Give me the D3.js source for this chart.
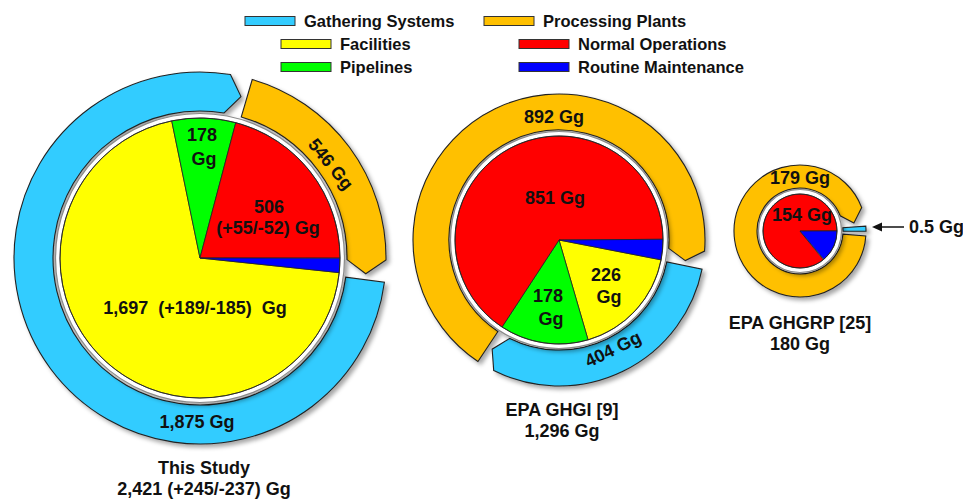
<!DOCTYPE html>
<html><head><meta charset="utf-8">
<script src="https://cdn.jsdelivr.net/npm/d3@7/dist/d3.min.js"></script>
<style>
html,body{margin:0;padding:0;background:#fff;}
svg{display:block;}
text{font-family:"Liberation Sans",Arial,sans-serif;font-weight:bold;fill:#111;white-space:pre;}
</style></head>
<body>
<svg id="chart" width="963" height="499"></svg>
<script>
// ---------- DATA ----------
const outerCategories = ["Gathering Systems", "Processing Plants"];
const innerCategories = ["Facilities", "Pipelines", "Normal Operations", "Routine Maintenance"];
const studies = ["This Study", "EPA GHGI [9]", "EPA GHGRP [25]"];
const studyTotals = ["2,421 (+245/-237) Gg", "1,296 Gg", "180 Gg"];

const outerThisStudy = [1875, 546];
const outerGHGI = [404, 892];
const outerGHGRP = [0.5, 179];

const innerThisStudy = [1697, 178, 506, 40];
const innerGHGI = [226, 178, 851, 41];
const innerGHGRP = [0.5, 0, 154, 25];

const outerLabelsThisStudy = [["1,875 Gg"], ["546 Gg"]];
const outerLabelsGHGI = [["404 Gg"], ["892 Gg"]];
const outerLabelsGHGRP = [["0.5 Gg"], ["179 Gg"]];
const innerLabelsThisStudy = [["1,697  (+189/-185)  Gg"], ["178", "Gg"], ["506", "(+55/-52) Gg"], []];
const innerLabelsGHGI = [["226", "Gg"], ["178", "Gg"], ["851 Gg"], []];
const innerLabelsGHGRP = [[], [], ["154 Gg"], []];

// ---------- STYLE ----------
const outerColors = ["#33CCFF", "#FFC000"];
const innerColors = ["#FFFF00", "#00FF00", "#FF0000", "#0000FF"];

const deg = Math.PI / 180;
const svg = d3.select("#chart");
const defs = svg.append("defs");
const f = defs.append("filter").attr("id", "shadow").attr("x", "-20%").attr("y", "-20%").attr("width", "140%").attr("height", "140%");
f.append("feDropShadow").attr("dx", 3).attr("dy", 3).attr("stdDeviation", 2.2)
  .attr("flood-color", "#000").attr("flood-opacity", 0.35);

// layout per chart
const charts = [
  { outer: outerThisStudy, inner: innerThisStudy, outerLabels: outerLabelsThisStudy, innerLabels: innerLabelsThisStudy,
    cx: 200, cy: 258, pieR: 140, ringR0: 147, ringR1: 186, innerStart: 96, outerStart: 97.5,
    tipPx: 14, gapPx: 6, startPadPx: 0,
    outerPos: [[197, 422, 0], [331, 164, 51]],
    innerPos: [[[195, 308]], [[202, 135], [204, 159]], [[269, 207], [268, 228]], []],
    titlePos: [204, 468] },
  { outer: outerGHGI, inner: innerGHGI, outerLabels: outerLabelsGHGI, innerLabels: innerLabelsGHGI,
    cx: 559, cy: 240, pieR: 104, ringR0: 110, ringR1: 146, innerStart: 101, outerStart: 101.5,
    tipPx: 11, gapPx: 5, startPadPx: 0,
    outerPos: [[613, 349, -26], [554, 117, 0]],
    innerPos: [[[606, 275], [609, 297]], [[548, 296], [551, 319]], [[555, 198]], []],
    titlePos: [562, 410] },
  { outer: outerGHGRP, inner: innerGHGRP, outerLabels: outerLabelsGHGRP, innerLabels: innerLabelsGHGRP,
    cx: 800, cy: 231, pieR: 37, ringR0: 43, ringR1: 66, innerStart: 140, outerStart: 87.5,
    tipPx: 11.7, gapPx: 5.7, startPadPx: 5.5, minSegDeg: 4.5,
    outerPos: [null, [800, 178, 0]],
    innerPos: [[], [], [[802, 215]], []],
    titlePos: [800, 323] }
];

function ringSegPath(cx, cy, r0, r1, a0, a1, aTip) {
  const p = d3.path();
  const pt = (r, a) => [cx + r * Math.sin(a), cy - r * Math.cos(a)];
  const s = pt(r1, a0);
  p.moveTo(s[0], s[1]);
  p.arc(cx, cy, r1, a0 - Math.PI / 2, a1 - Math.PI / 2, false);
  if (aTip != null) { const t = pt((r0 + r1) / 2, aTip); p.lineTo(t[0], t[1]); }
  const e = pt(r0, a1);
  p.lineTo(e[0], e[1]);
  p.arc(cx, cy, r0, a1 - Math.PI / 2, a0 - Math.PI / 2, true);
  p.closePath();
  return p.toString();
}

function multiline(g, lines, positions, rot) {
  lines.forEach((l, i) => {
    if (!positions[i]) return;
    const [x, y] = positions[i];
    g.append("text").attr("x", x).attr("y", y).attr("dy", "0.35em")
      .attr("text-anchor", "middle").attr("font-size", 18).text(l);
  });
}

charts.forEach((c, ci) => {
  const g = svg.append("g");
  const rMid = (c.ringR0 + c.ringR1) / 2;
  // outer ring via d3.pie
  const outerArcs = d3.pie().sort(null).value(d => d)
    .startAngle(c.outerStart * deg).endAngle(c.outerStart * deg + 2 * Math.PI)(c.outer);
  const gapA = c.gapPx / rMid, tipA = c.tipPx / rMid, padA = c.startPadPx / rMid;
  const ringG = g.append("g").attr("filter", "url(#shadow)");
  outerArcs.forEach((a, i) => {
    const span = a.endAngle - a.startAngle;
    let d;
    if (c.minSegDeg && span < c.minSegDeg * deg) {
      const mid = (a.startAngle + a.endAngle) / 2, h = c.minSegDeg * deg / 2;
      d = ringSegPath(c.cx, c.cy, c.ringR0, c.ringR1, mid - h, mid + h, null);
    } else {
      const a0 = a.startAngle + padA;
      const a1 = a.endAngle - gapA - tipA;
      d = ringSegPath(c.cx, c.cy, c.ringR0, c.ringR1, a0, a1, a.endAngle - gapA);
    }
    ringG.append("path").attr("d", d).attr("fill", outerColors[i])
      .attr("stroke", "#222").attr("stroke-width", 1.1).attr("stroke-linejoin", "miter");
  });
  // inner pie with white border ring
  g.append("circle").attr("cx", c.cx).attr("cy", c.cy).attr("r", c.pieR + 4.5)
    .attr("fill", "#fff").attr("stroke", "#8a8a8a").attr("stroke-width", 1.2).attr("filter", "url(#shadow)");
  const innerArcs = d3.pie().sort(null).value(d => d)
    .startAngle(c.innerStart * deg).endAngle(c.innerStart * deg + 2 * Math.PI)(c.inner);
  const arc = d3.arc().innerRadius(0).outerRadius(c.pieR);
  g.append("g").attr("transform", `translate(${c.cx},${c.cy})`)
    .selectAll("path").data(innerArcs.filter(a => a.endAngle - a.startAngle > 0.03)).join("path")
    .attr("d", arc).attr("fill", d => innerColors[d.index])
    .attr("stroke", "#222").attr("stroke-width", 0.8).attr("stroke-linejoin", "round");
  g.append("circle").attr("cx", c.cx).attr("cy", c.cy).attr("r", c.pieR)
    .attr("fill", "none").attr("stroke", "#222").attr("stroke-width", 0.8);

  // labels
  c.innerLabels.forEach((lines, i) => multiline(g, lines, c.innerPos[i]));
  c.outerLabels.forEach((lines, i) => {
    const p = c.outerPos[i];
    if (!p) return;
    g.append("text").attr("transform", `translate(${p[0]},${p[1]}) rotate(${p[2]})`)
      .attr("dy", "0.35em").attr("text-anchor", "middle").attr("font-size", 18).text(lines[0]);
  });
  // title
  g.append("text").attr("x", c.titlePos[0]).attr("y", c.titlePos[1]).attr("dy", "0.35em")
    .attr("text-anchor", "middle").attr("font-size", 18).text(studies[ci]);
  g.append("text").attr("x", c.titlePos[0]).attr("y", c.titlePos[1] + 21).attr("dy", "0.35em")
    .attr("text-anchor", "middle").attr("font-size", 18).text(studyTotals[ci]);
});

// small gathering callout for GHGRP
{
  const c = charts[2];
  const y = 227;
  svg.append("line").attr("x1", 904).attr("y1", y).attr("x2", 880).attr("y2", y)
    .attr("stroke", "#111").attr("stroke-width", 1.5);
  svg.append("path").attr("d", `M872,${y} L882,${y - 4.5} L882,${y + 4.5} Z`).attr("fill", "#111");
  svg.append("text").attr("x", 909).attr("y", y).attr("dy", "0.35em").attr("font-size", 18)
    .text(c.outerLabels[0][0]);
}

// legend
const legendItems = [
  { name: outerCategories[0], color: outerColors[0], x: 245, y: 21 },
  { name: outerCategories[1], color: outerColors[1], x: 484, y: 21 },
  { name: innerCategories[0], color: innerColors[0], x: 281, y: 44 },
  { name: innerCategories[2], color: innerColors[2], x: 519, y: 44 },
  { name: innerCategories[1], color: innerColors[1], x: 281, y: 67 },
  { name: innerCategories[3], color: innerColors[3], x: 519, y: 67 }
];
const lg = svg.append("g");
legendItems.forEach(it => {
  lg.append("rect").attr("x", it.x).attr("y", it.y - 4.5).attr("width", 50).attr("height", 9)
    .attr("fill", it.color).attr("stroke", "#333").attr("stroke-width", 1);
  lg.append("text").attr("x", it.x + 59).attr("y", it.y).attr("dy", "0.35em")
    .attr("font-size", 16.5).text(it.name);
});
</script>
</body></html>
